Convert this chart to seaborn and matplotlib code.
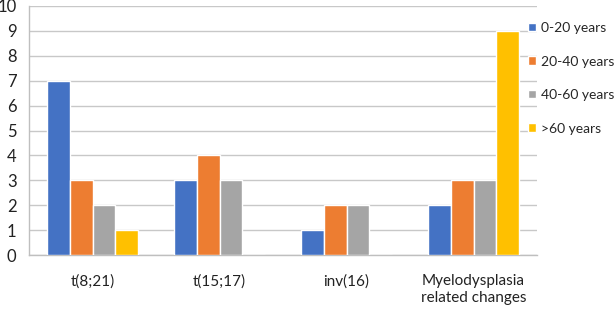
import pandas as pd
import matplotlib.pyplot as plt
from matplotlib.ticker import FixedLocator
import seaborn as sns

categories = ["t(8;21)", "t(15;17)", "inv(16)", "Myelodysplasia\nrelated changes"]
age_groups = ["0-20 years", "20-40 years", "40-60 years", ">60 years"]
v_0_20 = [7, 3, 1, 2]
v_20_40 = [3, 4, 2, 3]
v_40_60 = [2, 3, 2, 3]
v_60_plus = [1, 0, 0, 9]
colors = ["#4472C4", "#ED7D31", "#A5A5A5", "#FFC000"]

rows = []
for grp, vals in zip(age_groups, [v_0_20, v_20_40, v_40_60, v_60_plus]):
    for cat, v in zip(categories, vals):
        rows.append({"category": cat, "group": grp, "count": v})
df = pd.DataFrame(rows)

sns.set_style("white")
plt.rcParams["font.family"] = ["Lato", "DejaVu Sans"]

fig = plt.figure(figsize=(6.14, 3.12), dpi=100)
ax = fig.add_axes([29 / 614, 57 / 312, 508 / 614, 249 / 312])
sns.barplot(data=df, x="category", y="count", hue="group", palette=colors,
            width=0.72, saturation=1, ax=ax, zorder=3)

ax.set_ylim(0, 10)
ax.set_xlim(-0.5, 3.5)
ax.set_yticks(range(0, 11))
ax.grid(axis="y", color="#C8C8C8", linewidth=1, zorder=0)
ax.set_axisbelow(True)
for s in ["top", "right"]:
    ax.spines[s].set_visible(False)
for s in ["left", "bottom"]:
    ax.spines[s].set_color("#BFBFBF")
    ax.spines[s].set_linewidth(1)
ax.set_xlabel("")
ax.set_ylabel("")
ax.tick_params(axis="y", length=0, labelsize=12, pad=9, labelcolor="#222222")
ax.tick_params(axis="x", which="major", length=0, labelsize=11, pad=14, labelcolor="#222222")
ax.xaxis.set_minor_locator(FixedLocator([-0.5, 0.5, 1.5, 2.5, 3.5]))
ax.tick_params(axis="x", which="minor", length=5, color="#BFBFBF", width=1)

ax.legend(loc="upper left", bbox_to_anchor=(0.972, 0.958), frameon=False,
          fontsize=10, handlelength=0.55, handleheight=0.55, handletextpad=0.38,
          labelspacing=1.55, borderaxespad=0)

fig.savefig("out.png", dpi=100)
